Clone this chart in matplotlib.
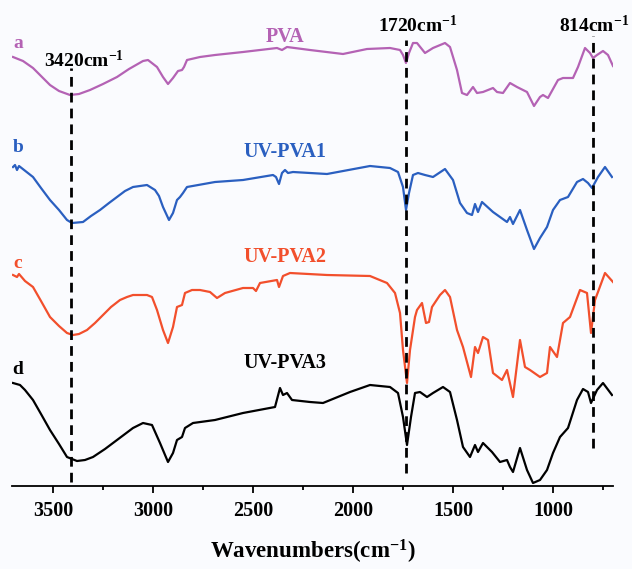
import numpy as np
import matplotlib.pyplot as plt
from matplotlib.ticker import MultipleLocator

plt.rcParams['font.family'] = ['Liberation Serif', 'DejaVu Serif']
plt.rcParams['font.weight'] = 'bold'
plt.rcParams['mathtext.fontset'] = 'custom'
plt.rcParams['mathtext.rm'] = 'Liberation Serif:bold'
plt.rcParams['mathtext.bf'] = 'Liberation Serif:bold'
plt.rcParams['mathtext.default'] = 'bf'

# FTIR spectra, transmittance in arbitrary units (curves already stacked)
wn_a = [3700, 3650, 3600, 3560, 3515, 3470, 3415, 3370, 3315, 3250, 3180, 3120,
        3050, 3025, 2980, 2950, 2925, 2900,
        2875, 2855, 2845, 2830, 2765, 2690, 2550, 2380, 2355, 2330, 2215, 2050,
        1930, 1815, 1765, 1750, 1735, 1720, 1700, 1680, 1640, 1600, 1540, 1515,
        1480, 1455, 1430, 1400, 1380, 1350, 1300, 1280, 1250, 1215, 1180, 1130,
        1095, 1065, 1050, 1025, 975, 950, 900, 875, 840, 815, 800, 780, 750,
        725, 700]
t_a = [429, 425, 418, 410, 401, 395, 391, 392, 396, 402, 409, 417,
       425, 426, 419, 409, 402, 408,
       415, 416, 419, 426, 429, 431, 434, 438, 436, 439, 436, 432,
       437, 438, 436, 431, 423, 433, 443, 443, 433, 438, 443, 439,
       416, 393, 391, 399, 393, 394, 398, 394, 393, 403, 399, 394,
       380, 389, 391, 388, 406, 408, 408, 419, 438, 433, 428, 431, 435,
       431, 420]

wn_b = [3700, 3690, 3680, 3670, 3600, 3560, 3515, 3470, 3430, 3405, 3350, 3310,
        3265, 3220, 3180, 3140, 3100,
        3030, 2990, 2970, 2950, 2920, 2900, 2880, 2865, 2850, 2830, 2690, 2550,
        2400, 2385, 2370, 2355, 2340, 2325, 2300, 2130, 1915, 1815, 1775, 1750,
        1735, 1720, 1700, 1675, 1640, 1600, 1540, 1500, 1465, 1430, 1405, 1390,
        1375, 1355, 1300, 1230, 1215, 1200, 1165, 1130, 1095, 1065, 1030, 1000,
        965, 925, 880, 850, 825, 805, 775, 740, 705]
t_b = [319, 321, 316, 320, 309, 298, 286, 276, 266, 263, 264, 270,
       276, 283, 289, 295, 299,
       301, 296, 290, 279, 266, 273, 286, 289, 293, 299, 304, 306,
       311, 309, 302, 313, 316, 313, 314, 312, 320, 318, 314, 299,
       276, 293, 311, 313, 311, 309, 317, 306, 283, 273, 271, 282,
       274, 284, 274, 264, 269, 262, 276, 256, 237, 248, 259, 276,
       286, 289, 304, 307, 303, 298, 309, 319, 309]

wn_c = [3700, 3680, 3670, 3640, 3600, 3560, 3515, 3470, 3430, 3400, 3370, 3330,
        3290, 3250, 3210, 3165, 3130, 3100, 3030,
        3005, 2980, 2950, 2925, 2900, 2880, 2855, 2840, 2805, 2765, 2715, 2680,
        2640, 2550, 2500, 2485, 2465, 2380, 2370, 2350, 2315, 2130, 1915, 1830,
        1790, 1765, 1750, 1730, 1715, 1690, 1680, 1655, 1635, 1620, 1605, 1565,
        1540, 1515, 1480, 1450, 1410, 1390, 1375, 1350, 1325, 1300, 1255, 1230,
        1200, 1165, 1140, 1115, 1065, 1030, 1015, 980, 950, 915, 865, 830,
        810, 790, 740, 700]
t_c = [211, 209, 212, 205, 199, 185, 169, 160, 153, 151, 152, 156,
       163, 171, 179, 186, 189, 191, 191,
       189, 176, 156, 143, 159, 179, 181, 193, 196, 196, 194, 188,
       193, 198, 198, 195, 203, 206, 199, 210, 213, 211, 210, 203,
       193, 173, 136, 103, 136, 169, 176, 183, 163, 164, 179, 191,
       196, 189, 156, 139, 109, 139, 133, 149, 146, 113, 106, 116,
       89, 146, 119, 116, 109, 113, 139, 129, 163, 169, 196, 193,
       153, 186, 213, 204]

wn_d = [3700, 3665, 3640, 3600, 3560, 3515, 3470, 3430, 3380, 3340, 3300, 3240,
        3180, 3140, 3100, 3050, 3005, 2965,
        2925, 2900, 2880, 2855, 2840, 2800, 2690, 2550, 2390, 2365, 2350, 2330,
        2305, 2215, 2150, 2015, 1915, 1815, 1775, 1750, 1730, 1710, 1690, 1665,
        1630, 1600, 1550, 1515, 1480, 1450, 1415, 1390, 1375, 1350, 1305, 1265,
        1230, 1215, 1200, 1165, 1130, 1100, 1065, 1030, 1000, 965, 925, 880,
        850, 825, 810, 780, 750, 705]
t_d = [103, 101, 96, 86, 72, 56, 42, 29, 25, 26, 29, 37,
       46, 52, 58, 63, 61, 43,
       24, 33, 46, 49, 58, 63, 66, 73, 79, 98, 91, 93,
       86, 84, 83, 94, 101, 99, 93, 69, 41, 69, 93, 94,
       89, 93, 99, 94, 66, 39, 29, 41, 34, 43, 34, 24,
       26, 19, 14, 38, 16, 3, 6, 16, 33, 49, 58, 86,
       97, 94, 83, 96, 103, 91]

names = ['PVA', 'UV-PVA1', 'UV-PVA2', 'UV-PVA3']
letters = ['a', 'b', 'c', 'd']
colors = ['#b462b4', '#2a5fc0', '#f24f2c', '#000000']
letter_y = [443, 338, 223, 116]
name_y = [449, 334, 229, 123]

# marked bands: label, position on axis, dashed line span, label position
band_labels = ['3420', '1720', '814']
band_x = [3410, 1735, 802]
band_lo = [4, 13, 38]
band_hi = [418, 446, 450]
band_text_x = [3345, 1675, 620]
band_text_y = [426, 461, 461]
band_ha = ['center', 'center', 'right']

bg = '#fafbfe'
fig = plt.figure(figsize=(6.32, 5.69), dpi=100, facecolor=bg)
ax = fig.add_axes([12/632, 83/569, 601/632, 486/569], facecolor=bg)

spectra = [(wn_a, t_a), (wn_b, t_b), (wn_c, t_c), (wn_d, t_d)]
for (w, t), c in zip(spectra, colors):
    ax.plot(w, t, color=c, lw=1.6, solid_joinstyle='round')

for x, lo, hi in zip(band_x, band_lo, band_hi):
    ax.plot([x, x], [lo, hi], color='black', lw=2.0, ls=(0, (3.5, 2.2)))

for lab, tx, ty, ha in zip(band_labels, band_text_x, band_text_y, band_ha):
    ax.text(tx, ty, lab + 'cm$^{-1}$', ha=ha, va='center',
            fontsize=14, fontweight='bold', color='black')

for let, name, c, ly, ny in zip(letters, names, colors, letter_y, name_y):
    ax.text(3675, ly, let, ha='center', va='center', fontsize=14,
            fontweight='bold', color=c)
    ax.text(2340, ny, name, ha='center', va='center', fontsize=14.5,
            fontweight='bold', color=c)

ax.set_xlim(3705, 700)
ax.set_ylim(0, 486)
for s in ['left', 'right', 'top']:
    ax.spines[s].set_visible(False)
ax.spines['bottom'].set_linewidth(1.3)
ax.set_yticks([])
ax.xaxis.set_major_locator(MultipleLocator(500))
ax.xaxis.set_minor_locator(MultipleLocator(250))
ax.tick_params(axis='x', which='major', direction='out', length=5, width=1.3,
               labelsize=14.5, pad=6)
ax.tick_params(axis='x', which='minor', direction='out', length=3, width=1.3)
ax.set_xlabel('Wavenumbers(cm$^{-1}$)', fontsize=16.5, fontweight='bold',
              labelpad=12)

fig.savefig('out.png', dpi=100, facecolor=bg)
